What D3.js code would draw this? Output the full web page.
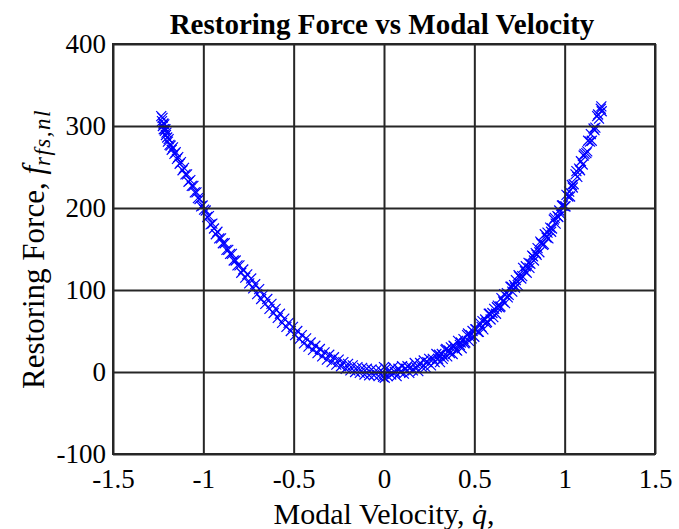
<!DOCTYPE html>
<html><head><meta charset="utf-8">
<script src="https://cdn.jsdelivr.net/npm/d3@7"></script>
<style>body{margin:0;background:#fff} svg{display:block}</style>
</head><body>
<svg id="chart" width="679" height="529"></svg>
<script>
const velocity = [
-1.233,-1.229,-1.226,-1.224,-1.221,-1.219,-1.216,-1.213,-1.210,-1.207,-1.204,-1.200,-1.196,-1.192,-1.187,-1.181,-1.175,-1.168,-1.160,-1.153,-1.146,-1.139,-1.131,-1.124,-1.115,-1.107,-1.099,-1.090,-1.082,-1.072,-1.064,-1.055,-1.047,-1.038,-1.030,-1.021,-1.012,-1.004,-0.996,-0.987,-0.978,-0.969,-0.960,-0.950,-0.941,-0.931,-0.922,-0.912,-0.902,-0.892,-0.882,-0.872,-0.862,-0.852,-0.842,-0.832,-0.821,-0.811,-0.800,-0.790,-0.779,-0.768,-0.757,-0.746,-0.735,-0.724,-0.713,-0.702,-0.691,-0.680,-0.668,-0.657,-0.646,-0.634,-0.623,-0.611,-0.600,-0.588,-0.576,-0.564,-0.552,-0.540,-0.528,-0.516,-0.504,-0.492,-0.480,-0.468,-0.455,-0.443,-0.431,-0.418,-0.406,-0.393,-0.380,-0.368,-0.355,-0.342,-0.329,-0.316,-0.303,-0.290,-0.277,-0.264,-0.251,-0.238,-0.225,-0.212,-0.199,-0.186,-0.173,-0.160,-0.147,-0.134,-0.121,-0.108,-0.095,-0.082,-0.069,-0.056,-0.043,-0.030,-0.017,
0.000,0.000,-0.005,0.004,
0.01,0.02,0.03,0.04,0.05,0.06,0.07,0.08,0.09,0.10,0.11,0.12,0.13,0.14,0.15,0.16,0.17,0.18,0.19,0.20,0.21,0.22,0.23,0.24,0.25,0.26,0.27,0.28,0.29,0.30,0.31,0.32,0.33,0.34,0.35,0.36,0.37,0.38,0.39,0.40,0.41,0.42,0.43,0.44,0.45,0.46,0.47,0.48,0.49,0.50,0.51,0.52,0.53,0.54,0.55,0.56,0.57,0.58,0.59,0.60,0.61,0.62,0.63,0.64,0.65,0.66,0.67,0.68,0.69,0.70,0.71,0.72,0.73,0.74,0.75,0.76,0.77,0.78,0.79,0.80,0.81,0.82,0.83,0.84,0.85,0.86,0.87,0.88,0.89,0.90,0.91,0.92,0.93,0.94,0.95,0.96,0.97,0.98,0.99,1.00,1.01,1.02,1.03,1.04,1.05,1.06,1.07,1.08,1.09,1.10,1.11,1.12,1.13,1.14,1.15,1.16,1.17,1.18,1.19,1.20,1.203,1.205,
0.305,0.325,0.345,0.365,0.385,0.405,0.425,0.445,0.465,0.485,0.505,0.525,0.545,0.565,0.585,0.605,0.625,0.645,0.665,0.685,0.705,0.725,0.745,0.765,0.785,0.805,0.825,0.845,0.865,0.885,0.905,0.925,0.945,0.965,0.985,1.005,1.025,1.045,1.065,1.085,1.105,1.125,1.145,1.165,1.185
];
const force = [
312,306,310,300,303,296,302,294,296,289,292,286,281,284,277,276,271,274,266,268,260,262,254,256,246,249,241,241,232,234,227,227,219,219,212,211,202,203,198,197,189,190,180,181,175,168,171,163,163,157,157,149,149,144,144,136,136,130,130,121,125,115,119,108,114,102,107,95,101,89,94,83,89,77,83,72,77,66,71,60,65,55,60,50,55,45,50,40,45,35,41,31,36,27,32,23,28,19,24,15,21,12,18,9,15,7,12,4,10,2,8,0,6,-1,5,-3,4,-4,3,-4,2,-5,2,
6,-2,-6,-7,
4,-5,2,-3,6,0,-5,4,0,7,-2,4,7,-1,6,2,11,5,1,11,6,14,6,12,16,8,16,12,22,16,12,22,19,27,19,26,30,22,31,27,38,33,29,40,36,45,38,45,50,43,52,49,60,55,52,64,61,71,64,72,77,71,81,79,90,86,84,96,94,104,98,106,112,106,116,114,127,123,121,133,132,142,136,145,151,146,157,155,168,164,163,176,175,186,181,190,197,192,203,202,216,214,214,228,229,241,238,248,257,253,266,267,282,281,282,297,298,312,309,321,324,318,
21,16,28,23,32,26,36,35,47,41,52,49,62,60,71,67,79,80,95,91,104,103,118,117,129,127,141,143,159,156,170,171,188,189,203,202,220,225,245,246,264,269,290,295,314
];
const xTicks = [-1.5,-1,-0.5,0,0.5,1,1.5];
const xTickLabels = ["-1.5","-1","-0.5","0","0.5","1","1.5"];
const yTicks = [-100,0,100,200,300,400];
const yTickLabels = ["-100","0","100","200","300","400"];
const titleText = "Restoring Force vs Modal Velocity";

const svg = d3.select("#chart");
const L = 113, R = 655, T = 44, B = 454;
const x = d3.scaleLinear().domain([-1.5,1.5]).range([L,R]);
const y = d3.scaleLinear().domain([-100,400]).range([B,T]);
const serif = "'Liberation Serif','Times New Roman',serif";
const gridColor = "#262626";

svg.append("rect").attr("width",679).attr("height",529).attr("fill","#fff");

// markers
const pts = velocity.map((v,i)=>[v,force[i]]);
const s = 5;
svg.append("g").selectAll("path").data(pts).join("path")
  .attr("transform", d=>`translate(${x(d[0])},${y(d[1])})`)
  .attr("d", `M${-s},${-s}L${s},${s}M${-s},${s}L${s},${-s}`)
  .attr("stroke","#0000ff").attr("stroke-width",1.2).attr("fill","none");

// grid + tick labels
const gx = svg.append("g").attr("transform",`translate(0,${B})`)
  .call(d3.axisBottom(x).tickValues(xTicks).tickFormat((d,i)=>xTickLabels[i]).tickSize(-(B-T)).tickPadding(15));
const gy = svg.append("g").attr("transform",`translate(${L},0)`)
  .call(d3.axisLeft(y).tickValues(yTicks).tickFormat((d,i)=>yTickLabels[i]).tickSize(-(R-L)).tickPadding(7));
[gx,gy].forEach(g=>{
  g.select(".domain").remove();
  g.selectAll(".tick line").attr("stroke",gridColor).attr("stroke-width",2);
  g.selectAll(".tick text").attr("fill","#000").style("font-family",serif).style("font-size","27px");
});
svg.append("rect").attr("x",L).attr("y",T).attr("width",R-L).attr("height",B-T)
  .attr("fill","none").attr("stroke",gridColor).attr("stroke-width",2);

// title
svg.append("text").attr("x",(L+R)/2 - 2).attr("y",34).attr("text-anchor","middle")
  .style("font-family",serif).style("font-weight","bold").style("font-size","29px")
  .text(titleText);

// x label
const xl = svg.append("text").attr("x",(L+R)/2).attr("y",524).attr("text-anchor","middle")
  .style("font-family",serif).style("font-size","30px");
xl.append("tspan").text("Modal Velocity, ");
xl.append("tspan").style("font-style","italic").text("q\u0307");
xl.append("tspan").text(",");

// y label
const yl = svg.append("text").attr("transform",`translate(44,${(T+B)/2}) rotate(-90)`).attr("text-anchor","middle")
  .style("font-family",serif).style("font-size","31px");
yl.append("tspan").text("Restoring Force, ");
yl.append("tspan").style("font-style","italic").text("f");
yl.append("tspan").style("font-style","italic").style("font-size","23px").style("letter-spacing","1.5px").attr("dy",6).text("rfs,nl");
</script>
</body></html>
